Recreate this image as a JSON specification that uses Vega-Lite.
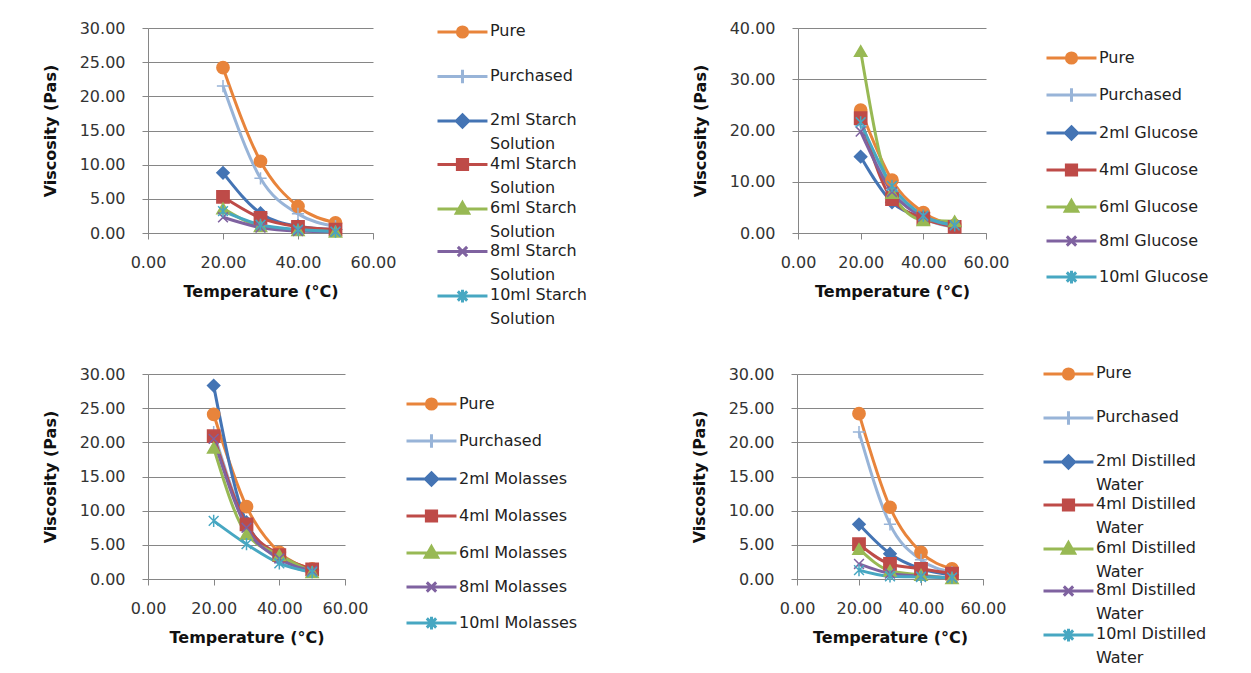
{
  "$schema": "https://vega.github.io/schema/vega-lite/v6.json",
  "padding": {"left": 42, "top": 20, "right": 0, "bottom": 0},
  "background": "white",
  "config": {
    "font": "DejaVu Sans",
    "view": {"stroke": null},
    "axis": {"labelFont": "DejaVu Sans", "labelFontSize": 16, "labelColor": "#333333", "titleFont": "DejaVu Sans", "titleFontSize": 16, "titleFontWeight": "bold", "titleColor": "#111111", "domainColor": "#868686", "tickColor": "#868686", "gridColor": "#868686", "gridOpacity": 1, "tickSize": 6, "format": ".2f", "labelFlush": false, "labelOverlap": false},
    "axisX": {"grid": false, "labelPadding": 15, "titlePadding": 13},
    "axisY": {"grid": true, "labelPadding": 17, "titlePadding": 21},
    "legend": {"labelFont": "DejaVu Sans", "labelFontSize": 16, "labelColor": "#222222", "orient": "none", "padding": 0, "symbolSize": 289, "symbolStrokeWidth": 3, "labelOffset": 34, "title": null}
  },
  "data": {"values": [
    {"panel": "Starch", "series": "Pure", "temp": 20, "visc": 24.2},
    {"panel": "Starch", "series": "Pure", "temp": 30, "visc": 10.5},
    {"panel": "Starch", "series": "Pure", "temp": 40, "visc": 3.9},
    {"panel": "Starch", "series": "Pure", "temp": 50, "visc": 1.5},
    {"panel": "Starch", "series": "Purchased", "temp": 20, "visc": 21.5},
    {"panel": "Starch", "series": "Purchased", "temp": 30, "visc": 8.0},
    {"panel": "Starch", "series": "Purchased", "temp": 40, "visc": 2.8},
    {"panel": "Starch", "series": "Purchased", "temp": 50, "visc": 1.0},
    {"panel": "Starch", "series": "2ml Starch Solution", "temp": 20, "visc": 8.8},
    {"panel": "Starch", "series": "2ml Starch Solution", "temp": 30, "visc": 2.9},
    {"panel": "Starch", "series": "2ml Starch Solution", "temp": 40, "visc": 1.0},
    {"panel": "Starch", "series": "2ml Starch Solution", "temp": 50, "visc": 0.5},
    {"panel": "Starch", "series": "4ml Starch Solution", "temp": 20, "visc": 5.3},
    {"panel": "Starch", "series": "4ml Starch Solution", "temp": 30, "visc": 2.2},
    {"panel": "Starch", "series": "4ml Starch Solution", "temp": 40, "visc": 0.9},
    {"panel": "Starch", "series": "4ml Starch Solution", "temp": 50, "visc": 0.5},
    {"panel": "Starch", "series": "6ml Starch Solution", "temp": 20, "visc": 3.6},
    {"panel": "Starch", "series": "6ml Starch Solution", "temp": 30, "visc": 1.0},
    {"panel": "Starch", "series": "6ml Starch Solution", "temp": 40, "visc": 0.4},
    {"panel": "Starch", "series": "6ml Starch Solution", "temp": 50, "visc": 0.2},
    {"panel": "Starch", "series": "8ml Starch Solution", "temp": 20, "visc": 2.3},
    {"panel": "Starch", "series": "8ml Starch Solution", "temp": 30, "visc": 0.8},
    {"panel": "Starch", "series": "8ml Starch Solution", "temp": 40, "visc": 0.3},
    {"panel": "Starch", "series": "8ml Starch Solution", "temp": 50, "visc": 0.2},
    {"panel": "Starch", "series": "10ml Starch Solution", "temp": 20, "visc": 3.2},
    {"panel": "Starch", "series": "10ml Starch Solution", "temp": 30, "visc": 1.2},
    {"panel": "Starch", "series": "10ml Starch Solution", "temp": 40, "visc": 0.5},
    {"panel": "Starch", "series": "10ml Starch Solution", "temp": 50, "visc": 0.2},

    {"panel": "Glucose", "series": "Pure", "temp": 20, "visc": 24.0},
    {"panel": "Glucose", "series": "Pure", "temp": 30, "visc": 10.3},
    {"panel": "Glucose", "series": "Pure", "temp": 40, "visc": 4.0},
    {"panel": "Glucose", "series": "Pure", "temp": 50, "visc": 1.5},
    {"panel": "Glucose", "series": "Purchased", "temp": 20, "visc": 21.0},
    {"panel": "Glucose", "series": "Purchased", "temp": 30, "visc": 8.5},
    {"panel": "Glucose", "series": "Purchased", "temp": 40, "visc": 3.0},
    {"panel": "Glucose", "series": "Purchased", "temp": 50, "visc": 1.2},
    {"panel": "Glucose", "series": "2ml Glucose", "temp": 20, "visc": 14.9},
    {"panel": "Glucose", "series": "2ml Glucose", "temp": 30, "visc": 6.0},
    {"panel": "Glucose", "series": "2ml Glucose", "temp": 40, "visc": 3.0},
    {"panel": "Glucose", "series": "2ml Glucose", "temp": 50, "visc": 1.2},
    {"panel": "Glucose", "series": "4ml Glucose", "temp": 20, "visc": 22.4},
    {"panel": "Glucose", "series": "4ml Glucose", "temp": 30, "visc": 6.6},
    {"panel": "Glucose", "series": "4ml Glucose", "temp": 40, "visc": 2.8},
    {"panel": "Glucose", "series": "4ml Glucose", "temp": 50, "visc": 1.2},
    {"panel": "Glucose", "series": "6ml Glucose", "temp": 20, "visc": 35.5},
    {"panel": "Glucose", "series": "6ml Glucose", "temp": 30, "visc": 7.8},
    {"panel": "Glucose", "series": "6ml Glucose", "temp": 40, "visc": 2.5},
    {"panel": "Glucose", "series": "6ml Glucose", "temp": 50, "visc": 2.3},
    {"panel": "Glucose", "series": "8ml Glucose", "temp": 20, "visc": 19.8},
    {"panel": "Glucose", "series": "8ml Glucose", "temp": 30, "visc": 8.0},
    {"panel": "Glucose", "series": "8ml Glucose", "temp": 40, "visc": 3.2},
    {"panel": "Glucose", "series": "8ml Glucose", "temp": 50, "visc": 1.5},
    {"panel": "Glucose", "series": "10ml Glucose", "temp": 20, "visc": 21.6},
    {"panel": "Glucose", "series": "10ml Glucose", "temp": 30, "visc": 9.2},
    {"panel": "Glucose", "series": "10ml Glucose", "temp": 40, "visc": 3.4},
    {"panel": "Glucose", "series": "10ml Glucose", "temp": 50, "visc": 1.5},

    {"panel": "Molasses", "series": "Pure", "temp": 20, "visc": 24.1},
    {"panel": "Molasses", "series": "Pure", "temp": 30, "visc": 10.6},
    {"panel": "Molasses", "series": "Pure", "temp": 40, "visc": 3.9},
    {"panel": "Molasses", "series": "Pure", "temp": 50, "visc": 1.5},
    {"panel": "Molasses", "series": "Purchased", "temp": 20, "visc": 21.5},
    {"panel": "Molasses", "series": "Purchased", "temp": 30, "visc": 8.0},
    {"panel": "Molasses", "series": "Purchased", "temp": 40, "visc": 2.8},
    {"panel": "Molasses", "series": "Purchased", "temp": 50, "visc": 1.0},
    {"panel": "Molasses", "series": "2ml Molasses", "temp": 20, "visc": 28.3},
    {"panel": "Molasses", "series": "2ml Molasses", "temp": 30, "visc": 8.3},
    {"panel": "Molasses", "series": "2ml Molasses", "temp": 40, "visc": 3.2},
    {"panel": "Molasses", "series": "2ml Molasses", "temp": 50, "visc": 1.3},
    {"panel": "Molasses", "series": "4ml Molasses", "temp": 20, "visc": 20.9},
    {"panel": "Molasses", "series": "4ml Molasses", "temp": 30, "visc": 8.0},
    {"panel": "Molasses", "series": "4ml Molasses", "temp": 40, "visc": 3.5},
    {"panel": "Molasses", "series": "4ml Molasses", "temp": 50, "visc": 1.4},
    {"panel": "Molasses", "series": "6ml Molasses", "temp": 20, "visc": 19.2},
    {"panel": "Molasses", "series": "6ml Molasses", "temp": 30, "visc": 6.6},
    {"panel": "Molasses", "series": "6ml Molasses", "temp": 40, "visc": 3.5},
    {"panel": "Molasses", "series": "6ml Molasses", "temp": 50, "visc": 1.0},
    {"panel": "Molasses", "series": "8ml Molasses", "temp": 20, "visc": 20.5},
    {"panel": "Molasses", "series": "8ml Molasses", "temp": 30, "visc": 7.5},
    {"panel": "Molasses", "series": "8ml Molasses", "temp": 40, "visc": 3.0},
    {"panel": "Molasses", "series": "8ml Molasses", "temp": 50, "visc": 1.2},
    {"panel": "Molasses", "series": "10ml Molasses", "temp": 20, "visc": 8.5},
    {"panel": "Molasses", "series": "10ml Molasses", "temp": 30, "visc": 5.1},
    {"panel": "Molasses", "series": "10ml Molasses", "temp": 40, "visc": 2.3},
    {"panel": "Molasses", "series": "10ml Molasses", "temp": 50, "visc": 1.0},

    {"panel": "Water", "series": "Pure", "temp": 20, "visc": 24.2},
    {"panel": "Water", "series": "Pure", "temp": 30, "visc": 10.5},
    {"panel": "Water", "series": "Pure", "temp": 40, "visc": 3.9},
    {"panel": "Water", "series": "Pure", "temp": 50, "visc": 1.5},
    {"panel": "Water", "series": "Purchased", "temp": 20, "visc": 21.5},
    {"panel": "Water", "series": "Purchased", "temp": 30, "visc": 8.0},
    {"panel": "Water", "series": "Purchased", "temp": 40, "visc": 2.8},
    {"panel": "Water", "series": "Purchased", "temp": 50, "visc": 1.0},
    {"panel": "Water", "series": "2ml Distilled Water", "temp": 20, "visc": 8.0},
    {"panel": "Water", "series": "2ml Distilled Water", "temp": 30, "visc": 3.7},
    {"panel": "Water", "series": "2ml Distilled Water", "temp": 40, "visc": 1.5},
    {"panel": "Water", "series": "2ml Distilled Water", "temp": 50, "visc": 0.6},
    {"panel": "Water", "series": "4ml Distilled Water", "temp": 20, "visc": 5.1},
    {"panel": "Water", "series": "4ml Distilled Water", "temp": 30, "visc": 2.2},
    {"panel": "Water", "series": "4ml Distilled Water", "temp": 40, "visc": 1.5},
    {"panel": "Water", "series": "4ml Distilled Water", "temp": 50, "visc": 0.8},
    {"panel": "Water", "series": "6ml Distilled Water", "temp": 20, "visc": 4.4},
    {"panel": "Water", "series": "6ml Distilled Water", "temp": 30, "visc": 1.2},
    {"panel": "Water", "series": "6ml Distilled Water", "temp": 40, "visc": 0.6},
    {"panel": "Water", "series": "6ml Distilled Water", "temp": 50, "visc": 0.1},
    {"panel": "Water", "series": "8ml Distilled Water", "temp": 20, "visc": 2.2},
    {"panel": "Water", "series": "8ml Distilled Water", "temp": 30, "visc": 0.8},
    {"panel": "Water", "series": "8ml Distilled Water", "temp": 40, "visc": 0.4},
    {"panel": "Water", "series": "8ml Distilled Water", "temp": 50, "visc": 0.2},
    {"panel": "Water", "series": "10ml Distilled Water", "temp": 20, "visc": 1.3},
    {"panel": "Water", "series": "10ml Distilled Water", "temp": 30, "visc": 0.4},
    {"panel": "Water", "series": "10ml Distilled Water", "temp": 40, "visc": 0.3},
    {"panel": "Water", "series": "10ml Distilled Water", "temp": 50, "visc": 0.2}
  ]},
  "spacing": 37,
  "resolve": {"scale": {"color": "independent", "shape": "independent", "fill": "independent", "stroke": "independent", "x": "independent", "y": "independent"}, "legend": {"color": "independent"}},
  "vconcat": [
    {
      "spacing": 105,
      "resolve": {"scale": {"color": "independent", "shape": "independent", "fill": "independent", "stroke": "independent", "x": "independent", "y": "independent"}, "legend": {"color": "independent"}},
      "hconcat": [
        {
          "width": 225, "height": 205,
          "transform": [{"filter": "datum.panel == 'Starch'"}],
          "encoding": {
            "x": {"field": "temp", "type": "quantitative", "scale": {"domain": [0, 60]}, "axis": {"values": [0, 20, 40, 60], "title": "Temperature (°C)"}},
            "y": {"field": "visc", "type": "quantitative", "scale": {"domain": [0, 30]}, "axis": {"values": [0, 5, 10, 15, 20, 25, 30], "title": "Viscosity (Pas)"}}
          },
          "layer": [
            {"mark": {"type": "line", "strokeWidth": 3, "interpolate": "monotone"},
             "encoding": {"color": {"field": "series", "type": "nominal", "sort": null,
               "scale": {"domain": ["Pure", "Purchased", "2ml Starch Solution", "4ml Starch Solution", "6ml Starch Solution", "8ml Starch Solution", "10ml Starch Solution"], "range": ["#E8843B", "#98B4D8", "#4474B4", "#BE4B48", "#98B954", "#7F62A0", "#47A7C2"]},
               "legend": {"legendX": 288, "legendY": -6, "rowPadding": 0.5, "labelBaseline": "top",
                 "labelExpr": "lastindexof(datum.label,' ') > 0 ? [substring(datum.label,0,lastindexof(datum.label,' ')), substring(datum.label,lastindexof(datum.label,' ')+1)] : [datum.label, ' ']",
                 "encode": {
                   "labels": {"update": {"dy": {"value": -9}, "lineHeight": {"value": 24}}},
                   "symbols": {"update": {
                     "shape": {"signal": "['M-1,0H4.88M1.34,0A0.6,0.6,0,1,0,2.54,0A0.6,0.6,0,1,0,1.34,0Z','M-1,0H4.88M1.94,-0.8V0.8','M-1,0H4.88M1.94,-0.72L2.66,0L1.94,0.72L1.22,0Z','M-1,0H4.88M1.34,-0.6H2.54V0.6H1.34Z','M-1,0H4.88M1.94,-0.75L2.66,0.5H1.22Z','M-1,0H4.88M1.39,-0.55L2.49,0.55M1.39,0.55L2.49,-0.55','M-1,0H4.88M1.39,-0.55L2.49,0.55M1.39,0.55L2.49,-0.55M1.94,-0.75V0.75'][datum.index]"},
                     "fill": {"signal": "['#E8843B','#98B4D8','#4474B4','#BE4B48','#98B954','#7F62A0','#47A7C2'][datum.index]"},
                     "strokeWidth": {"value": 3}, "opacity": {"value": 1}, "fillOpacity": {"value": 1}, "strokeOpacity": {"value": 1}}}
                 }}}}},
            {"mark": {"type": "point", "size": 150, "strokeWidth": 1.5, "opacity": 1},
             "encoding": {
               "shape": {"field": "series", "type": "nominal", "legend": null, "scale": {"domain": ["10ml Starch Solution", "8ml Starch Solution", "6ml Starch Solution", "4ml Starch Solution", "2ml Starch Solution", "Purchased", "Pure"], "range": ["M-0.8,-0.8L0.8,0.8M-0.8,0.8L0.8,-0.8M0,-1V1", "M-0.8,-0.8L0.8,0.8M-0.8,0.8L0.8,-0.8", "triangle-up", "square", "diamond", "M-1,0H1M0,-1V1", "circle"]}},
               "fill": {"field": "series", "type": "nominal", "legend": null, "scale": {"domain": ["10ml Starch Solution", "8ml Starch Solution", "6ml Starch Solution", "4ml Starch Solution", "2ml Starch Solution", "Purchased", "Pure"], "range": ["#47A7C2", "#7F62A0", "#98B954", "#BE4B48", "#4474B4", "#98B4D8", "#E8843B"]}},
               "stroke": {"field": "series", "type": "nominal", "legend": null, "scale": {"domain": ["10ml Starch Solution", "8ml Starch Solution", "6ml Starch Solution", "4ml Starch Solution", "2ml Starch Solution", "Purchased", "Pure"], "range": ["#47A7C2", "#7F62A0", "#98B954", "#BE4B48", "#4474B4", "#98B4D8", "#E8843B"]}}
             }}
          ]
        },
        {
          "width": 188, "height": 205,
          "transform": [{"filter": "datum.panel == 'Glucose'"}],
          "encoding": {
            "x": {"field": "temp", "type": "quantitative", "scale": {"domain": [0, 60]}, "axis": {"values": [0, 20, 40, 60], "title": "Temperature (°C)"}},
            "y": {"field": "visc", "type": "quantitative", "scale": {"domain": [0, 40]}, "axis": {"values": [0, 10, 20, 30, 40], "title": "Viscosity (Pas)"}}
          },
          "layer": [
            {"mark": {"type": "line", "strokeWidth": 3, "interpolate": "monotone"},
             "encoding": {"color": {"field": "series", "type": "nominal", "sort": null,
               "scale": {"domain": ["Pure", "Purchased", "2ml Glucose", "4ml Glucose", "6ml Glucose", "8ml Glucose", "10ml Glucose"], "range": ["#E8843B", "#98B4D8", "#4474B4", "#BE4B48", "#98B954", "#7F62A0", "#47A7C2"]},
               "legend": {"legendX": 247, "legendY": 20, "rowPadding": 12, "labelBaseline": "middle",
                 "encode": {
                   "symbols": {"update": {
                     "shape": {"signal": "['M-1,0H4.88M1.34,0A0.6,0.6,0,1,0,2.54,0A0.6,0.6,0,1,0,1.34,0Z','M-1,0H4.88M1.94,-0.8V0.8','M-1,0H4.88M1.94,-0.72L2.66,0L1.94,0.72L1.22,0Z','M-1,0H4.88M1.34,-0.6H2.54V0.6H1.34Z','M-1,0H4.88M1.94,-0.75L2.66,0.5H1.22Z','M-1,0H4.88M1.39,-0.55L2.49,0.55M1.39,0.55L2.49,-0.55','M-1,0H4.88M1.39,-0.55L2.49,0.55M1.39,0.55L2.49,-0.55M1.94,-0.75V0.75'][datum.index]"},
                     "fill": {"signal": "['#E8843B','#98B4D8','#4474B4','#BE4B48','#98B954','#7F62A0','#47A7C2'][datum.index]"},
                     "strokeWidth": {"value": 3}, "opacity": {"value": 1}, "fillOpacity": {"value": 1}, "strokeOpacity": {"value": 1}}}
                 }}}}},
            {"mark": {"type": "point", "size": 150, "strokeWidth": 1.5, "opacity": 1},
             "encoding": {
               "shape": {"field": "series", "type": "nominal", "legend": null, "scale": {"domain": ["10ml Glucose", "8ml Glucose", "6ml Glucose", "4ml Glucose", "2ml Glucose", "Purchased", "Pure"], "range": ["M-0.8,-0.8L0.8,0.8M-0.8,0.8L0.8,-0.8M0,-1V1", "M-0.8,-0.8L0.8,0.8M-0.8,0.8L0.8,-0.8", "triangle-up", "square", "diamond", "M-1,0H1M0,-1V1", "circle"]}},
               "fill": {"field": "series", "type": "nominal", "legend": null, "scale": {"domain": ["10ml Glucose", "8ml Glucose", "6ml Glucose", "4ml Glucose", "2ml Glucose", "Purchased", "Pure"], "range": ["#47A7C2", "#7F62A0", "#98B954", "#BE4B48", "#4474B4", "#98B4D8", "#E8843B"]}},
               "stroke": {"field": "series", "type": "nominal", "legend": null, "scale": {"domain": ["10ml Glucose", "8ml Glucose", "6ml Glucose", "4ml Glucose", "2ml Glucose", "Purchased", "Pure"], "range": ["#47A7C2", "#7F62A0", "#98B954", "#BE4B48", "#4474B4", "#98B4D8", "#E8843B"]}}
             }}
          ]
        }
      ]
    },
    {
      "spacing": 113,
      "resolve": {"scale": {"color": "independent", "shape": "independent", "fill": "independent", "stroke": "independent", "x": "independent", "y": "independent"}, "legend": {"color": "independent"}},
      "hconcat": [
        {
          "width": 197, "height": 205,
          "transform": [{"filter": "datum.panel == 'Molasses'"}],
          "encoding": {
            "x": {"field": "temp", "type": "quantitative", "scale": {"domain": [0, 60]}, "axis": {"values": [0, 20, 40, 60], "title": "Temperature (°C)"}},
            "y": {"field": "visc", "type": "quantitative", "scale": {"domain": [0, 30]}, "axis": {"values": [0, 5, 10, 15, 20, 25, 30], "title": "Viscosity (Pas)"}}
          },
          "layer": [
            {"mark": {"type": "line", "strokeWidth": 3, "interpolate": "monotone"},
             "encoding": {"color": {"field": "series", "type": "nominal", "sort": null,
               "scale": {"domain": ["Pure", "Purchased", "2ml Molasses", "4ml Molasses", "6ml Molasses", "8ml Molasses", "10ml Molasses"], "range": ["#E8843B", "#98B4D8", "#4474B4", "#BE4B48", "#98B954", "#7F62A0", "#47A7C2"]},
               "legend": {"legendX": 257, "legendY": 20, "rowPadding": 12, "labelBaseline": "middle",
                 "encode": {
                   "symbols": {"update": {
                     "shape": {"signal": "['M-1,0H4.88M1.34,0A0.6,0.6,0,1,0,2.54,0A0.6,0.6,0,1,0,1.34,0Z','M-1,0H4.88M1.94,-0.8V0.8','M-1,0H4.88M1.94,-0.72L2.66,0L1.94,0.72L1.22,0Z','M-1,0H4.88M1.34,-0.6H2.54V0.6H1.34Z','M-1,0H4.88M1.94,-0.75L2.66,0.5H1.22Z','M-1,0H4.88M1.39,-0.55L2.49,0.55M1.39,0.55L2.49,-0.55','M-1,0H4.88M1.39,-0.55L2.49,0.55M1.39,0.55L2.49,-0.55M1.94,-0.75V0.75'][datum.index]"},
                     "fill": {"signal": "['#E8843B','#98B4D8','#4474B4','#BE4B48','#98B954','#7F62A0','#47A7C2'][datum.index]"},
                     "strokeWidth": {"value": 3}, "opacity": {"value": 1}, "fillOpacity": {"value": 1}, "strokeOpacity": {"value": 1}}}
                 }}}}},
            {"mark": {"type": "point", "size": 150, "strokeWidth": 1.5, "opacity": 1},
             "encoding": {
               "shape": {"field": "series", "type": "nominal", "legend": null, "scale": {"domain": ["10ml Molasses", "8ml Molasses", "6ml Molasses", "4ml Molasses", "2ml Molasses", "Purchased", "Pure"], "range": ["M-0.8,-0.8L0.8,0.8M-0.8,0.8L0.8,-0.8M0,-1V1", "M-0.8,-0.8L0.8,0.8M-0.8,0.8L0.8,-0.8", "triangle-up", "square", "diamond", "M-1,0H1M0,-1V1", "circle"]}},
               "fill": {"field": "series", "type": "nominal", "legend": null, "scale": {"domain": ["10ml Molasses", "8ml Molasses", "6ml Molasses", "4ml Molasses", "2ml Molasses", "Purchased", "Pure"], "range": ["#47A7C2", "#7F62A0", "#98B954", "#BE4B48", "#4474B4", "#98B4D8", "#E8843B"]}},
               "stroke": {"field": "series", "type": "nominal", "legend": null, "scale": {"domain": ["10ml Molasses", "8ml Molasses", "6ml Molasses", "4ml Molasses", "2ml Molasses", "Purchased", "Pure"], "range": ["#47A7C2", "#7F62A0", "#98B954", "#BE4B48", "#4474B4", "#98B4D8", "#E8843B"]}}
             }}
          ]
        },
        {
          "width": 186, "height": 205,
          "transform": [{"filter": "datum.panel == 'Water'"}],
          "encoding": {
            "x": {"field": "temp", "type": "quantitative", "scale": {"domain": [0, 60]}, "axis": {"values": [0, 20, 40, 60], "title": "Temperature (°C)"}},
            "y": {"field": "visc", "type": "quantitative", "scale": {"domain": [0, 30]}, "axis": {"values": [0, 5, 10, 15, 20, 25, 30], "title": "Viscosity (Pas)"}}
          },
          "layer": [
            {"mark": {"type": "line", "strokeWidth": 3, "interpolate": "monotone"},
             "encoding": {"color": {"field": "series", "type": "nominal", "sort": null,
               "scale": {"domain": ["Pure", "Purchased", "2ml Distilled Water", "4ml Distilled Water", "6ml Distilled Water", "8ml Distilled Water", "10ml Distilled Water"], "range": ["#E8843B", "#98B4D8", "#4474B4", "#BE4B48", "#98B954", "#7F62A0", "#47A7C2"]},
               "legend": {"legendX": 245, "legendY": -10, "rowPadding": 0, "labelBaseline": "top",
                 "labelExpr": "lastindexof(datum.label,' ') > 0 ? [substring(datum.label,0,lastindexof(datum.label,' ')), substring(datum.label,lastindexof(datum.label,' ')+1)] : [datum.label, ' ']",
                 "encode": {
                   "labels": {"update": {"dy": {"value": -9}, "lineHeight": {"value": 24}}},
                   "symbols": {"update": {
                     "shape": {"signal": "['M-1,0H4.88M1.34,0A0.6,0.6,0,1,0,2.54,0A0.6,0.6,0,1,0,1.34,0Z','M-1,0H4.88M1.94,-0.8V0.8','M-1,0H4.88M1.94,-0.72L2.66,0L1.94,0.72L1.22,0Z','M-1,0H4.88M1.34,-0.6H2.54V0.6H1.34Z','M-1,0H4.88M1.94,-0.75L2.66,0.5H1.22Z','M-1,0H4.88M1.39,-0.55L2.49,0.55M1.39,0.55L2.49,-0.55','M-1,0H4.88M1.39,-0.55L2.49,0.55M1.39,0.55L2.49,-0.55M1.94,-0.75V0.75'][datum.index]"},
                     "fill": {"signal": "['#E8843B','#98B4D8','#4474B4','#BE4B48','#98B954','#7F62A0','#47A7C2'][datum.index]"},
                     "strokeWidth": {"value": 3}, "opacity": {"value": 1}, "fillOpacity": {"value": 1}, "strokeOpacity": {"value": 1}}}
                 }}}}},
            {"mark": {"type": "point", "size": 150, "strokeWidth": 1.5, "opacity": 1},
             "encoding": {
               "shape": {"field": "series", "type": "nominal", "legend": null, "scale": {"domain": ["10ml Distilled Water", "8ml Distilled Water", "6ml Distilled Water", "4ml Distilled Water", "2ml Distilled Water", "Purchased", "Pure"], "range": ["M-0.8,-0.8L0.8,0.8M-0.8,0.8L0.8,-0.8M0,-1V1", "M-0.8,-0.8L0.8,0.8M-0.8,0.8L0.8,-0.8", "triangle-up", "square", "diamond", "M-1,0H1M0,-1V1", "circle"]}},
               "fill": {"field": "series", "type": "nominal", "legend": null, "scale": {"domain": ["10ml Distilled Water", "8ml Distilled Water", "6ml Distilled Water", "4ml Distilled Water", "2ml Distilled Water", "Purchased", "Pure"], "range": ["#47A7C2", "#7F62A0", "#98B954", "#BE4B48", "#4474B4", "#98B4D8", "#E8843B"]}},
               "stroke": {"field": "series", "type": "nominal", "legend": null, "scale": {"domain": ["10ml Distilled Water", "8ml Distilled Water", "6ml Distilled Water", "4ml Distilled Water", "2ml Distilled Water", "Purchased", "Pure"], "range": ["#47A7C2", "#7F62A0", "#98B954", "#BE4B48", "#4474B4", "#98B4D8", "#E8843B"]}}
             }}
          ]
        }
      ]
    }
  ]
}
